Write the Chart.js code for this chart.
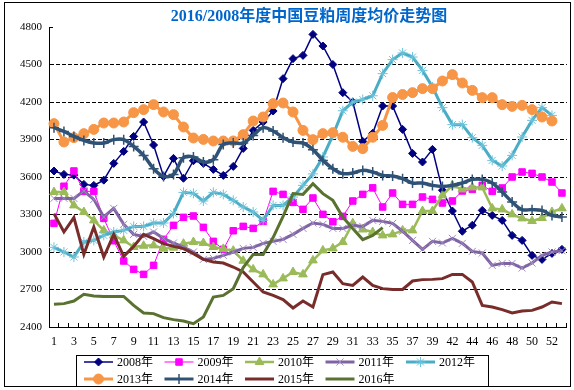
<!DOCTYPE html>
<html>
<head>
<meta charset="utf-8">
<title>2016/2008年度中国豆粕周度均价走势图</title>
<script src="https://cdn.jsdelivr.net/npm/chart.js"></script>
<style>
  body { margin: 0; background: #fff; }
  canvas { display: block; }
</style>
</head>
<body>
<canvas id="priceChart" width="574" height="390"></canvas>
<script>
// week numbers on the x axis (one week is skipped in the source, labels jump 39 -> 42)
const weeks = ['1','2','3','4','5','6','7','8','9','10','11','12','13','14','15','16','17','18','19','20',
  '21','22','23','24','25','26','27','28','29','30','31','32','33','34','35','36','37','38','39','40',
  '42','43','44','45','46','47','48','49','50','51','52','53'];

// weekly average price, yuan/ton
const y2008 = [3648,3621,3615,3541,3533,3575,3709,3805,3925,4040,3856,3605,3749,3590,3730,3709,3661,3613,3685,3829,
  3973,4040,4128,4387,4547,4573,4741,4648,4500,4275,4200,3885,3950,4168,4168,3981,3789,3720,3821,3494,
  3328,3166,3214,3333,3293,3253,3133,3093,2973,2941,2989,3021];
const y2009 = [3229,3526,3648,3485,3485,3269,3090,2928,2861,2821,2893,3101,3213,3277,3288,3197,3085,3021,3170,3205,
  3189,3245,3485,3461,3397,3341,3432,3301,3242,3285,3408,3461,3513,3360,3472,3381,3381,3440,3421,3392,
  3408,3488,3501,3533,3485,3512,3600,3640,3629,3600,3560,3472];
const y2010 = [3480,3480,3373,3320,3253,3173,3133,3093,3040,3050,3053,3027,3035,3067,3080,3072,3040,3025,3011,2930,
  2861,2821,2741,2789,2840,2821,2933,3013,3029,3080,3230,3180,3160,3133,3141,3173,3173,3328,3328,3453,
  3533,3501,3517,3517,3349,3341,3301,3269,3248,3272,3320,3349];
const y2011 = [3429,3429,3429,3488,3421,3280,3349,3221,3141,3125,3160,3109,3072,3040,3000,2941,2949,2973,3000,3029,
  3037,3069,3085,3101,3141,3189,3232,3221,3189,3189,3213,3205,3253,3245,3229,3166,3093,3021,3085,3072,
  3109,3069,3005,2992,2893,2909,2909,2872,2912,2973,3000,3010];
const y2012 = [3037,3000,2960,3080,3093,3133,3160,3173,3205,3205,3232,3232,3309,3477,3469,3408,3477,3461,3413,3360,
  3320,3253,3373,3373,3440,3533,3625,3760,3933,4130,4200,4220,4250,4427,4539,4592,4560,4453,4320,4155,
  4019,4019,3915,3853,3733,3688,3773,3920,4053,4155,4093,null];
const y2013 = [4027,3880,3915,3947,3981,4032,4032,4040,4115,4139,4179,4120,4099,4000,3912,3901,3888,3888,3888,3939,
  4048,4080,4187,4192,4120,3973,3899,3947,3955,3918,3845,3827,3918,4013,4236,4260,4275,4307,4307,4368,
  4419,4352,4293,4235,4235,4179,4165,4173,4139,4080,4048,null];
const y2014 = [3995,3965,3925,3893,3872,3872,3899,3899,3845,3773,3667,3605,3621,3755,3760,3720,3739,3861,3872,3872,
  3933,3995,3968,3915,3880,3872,3819,3733,3667,3627,3632,3653,3640,3613,3608,3587,3552,3552,3533,3525,
  3533,3552,3581,3581,3552,3480,3400,3339,3339,3333,3293,3280];
const y2015 = [3307,3160,3275,2981,3200,2960,3141,2965,3045,3141,3107,3067,3045,3027,2987,2941,2920,2912,2880,2840,
  2760,2680,2653,2619,2552,2608,2560,2819,2840,2747,2733,2800,2733,2707,2700,2700,2768,2779,2781,2787,
  2821,2821,2760,2573,2560,2539,2512,2528,2533,2560,2600,2587];
const y2016 = [2582,2587,2608,2661,2648,2645,2645,2645,2573,2512,2507,2475,2459,2448,2427,2480,2640,2653,2707,2875,
  2981,2981,3115,3285,3467,3461,3547,3467,3413,3280,3187,3099,3133,3195];

const seriesNames = ['2008年','2009年','2010年','2011年','2012年','2013年','2014年','2015年','2016年'];

const FONT = '"Liberation Serif", "Noto Sans CJK SC", serif';

function line(label, data, color, width, style, radius, extra) {
    return Object.assign({
        label: label,
        data: data,
        borderColor: color,
        backgroundColor: color,
        borderWidth: width,
        pointStyle: style,
        pointRadius: radius,
        pointHoverRadius: radius,
        pointBorderWidth: 1,
        tension: 0,
        fill: false
    }, extra || {});
}

const datasets = [
    line(seriesNames[0], y2008, '#000080', 1.5, 'rectRot', 4),
    line(seriesNames[1], y2009, '#FF00FF', 1, 'rect', 4.6),
    line(seriesNames[2], y2010, '#9BBB59', 2.5, 'triangle', 5),
    line(seriesNames[3], y2011, '#8064A2', 3, 'crossRot', 5, {pointBorderColor: '#9E8BC4'}),
    line(seriesNames[4], y2012, '#4BACC6', 3, 'star', 5, {pointBorderColor: '#6EC3DA'}),
    line(seriesNames[5], y2013, '#F79646', 3, 'circle', 5),
    line(seriesNames[6], y2014, '#2F5275', 3.5, 'cross', 5, {tension: 0.35, pointBorderWidth: 1.5}),
    line(seriesNames[7], y2015, '#782D2B', 3, 'circle', 0),
    line(seriesNames[8], y2016, '#5A7230', 3, 'circle', 0)
];
// later years are painted on top, like the original
datasets.forEach(function(d, i) { d.order = datasets.length - i; });

// title, outer frame and the boxed legend are painted by hand
const decorations = {
    id: 'decorations',
    afterDraw: function(chart) {
        const ctx = chart.ctx;
        ctx.save();
        ctx.strokeStyle = '#000';
        ctx.lineWidth = 1;
        ctx.strokeRect(4.5, 2.5, 566, 384);

        ctx.fillStyle = '#0066CC';
        ctx.font = 'bold 16px ' + FONT;
        ctx.textAlign = 'center';
        ctx.textBaseline = 'middle';
        ctx.fillText('2016/2008年度中国豆粕周度均价走势图', 309, 17);

        ctx.strokeRect(76.5, 355.5, 412, 31);
        ctx.font = '12px ' + FONT;
        ctx.textAlign = 'left';
        chart.data.datasets.forEach(function(ds, i) {
            const x0 = 84 + (i % 5) * 80.5;
            const x1 = x0 + 29;
            const y = i < 5 ? 362 : 379;
            ctx.strokeStyle = ds.borderColor;
            ctx.lineWidth = Math.min(ds.borderWidth, 3);
            ctx.beginPath();
            ctx.moveTo(x0, y);
            ctx.lineTo(x1, y);
            ctx.stroke();
            if (ds.pointRadius > 0 && Chart.helpers && Chart.helpers.drawPoint) {
                ctx.fillStyle = ds.backgroundColor;
                ctx.strokeStyle = ds.pointBorderColor || ds.borderColor;
                ctx.lineWidth = ds.pointBorderWidth;
                Chart.helpers.drawPoint(ctx, {pointStyle: ds.pointStyle, rotation: 0,
                    radius: ds.pointRadius, borderWidth: ds.pointBorderWidth}, (x0 + x1) / 2, y);
            }
            ctx.fillStyle = '#000';
            ctx.fillText(ds.label, x1 + 4, y + 1);
        });
        ctx.restore();
    }
};

new Chart(document.getElementById('priceChart'), {
    type: 'line',
    data: { labels: weeks, datasets: datasets },
    options: {
        responsive: false,
        animation: false,
        layout: { padding: { top: 27, right: 5, left: 0, bottom: 0 } },
        plugins: {
            legend: { display: false },
            title: { display: false },
            tooltip: { enabled: false }
        },
        scales: {
            x: {
                offset: true,
                afterFit: function(scale) { scale.height = 63; },
                grid: { offset: true, drawOnChartArea: false, tickLength: -4, color: '#000' },
                border: { color: '#000' },
                ticks: {
                    autoSkip: false,
                    maxRotation: 0,
                    padding: 12,
                    color: '#000',
                    font: { family: FONT, size: 12 },
                    callback: function(value, index) { return index % 2 === 0 ? weeks[index] : ''; }
                }
            },
            y: {
                min: 2400,
                max: 4800,
                afterFit: function(scale) { scale.width = 49; },
                grid: {
                    tickLength: -4,
                    tickColor: '#000',
                    color: function(c) { return c.tick && c.tick.value === 4800 ? 'rgba(0,0,0,0)' : '#000'; }
                },
                border: { color: '#000', dash: [4, 2] },
                ticks: {
                    stepSize: 300,
                    padding: 11,
                    color: '#000',
                    font: { family: FONT, size: 11 },
                    callback: function(value) { return String(value); }
                }
            }
        }
    },
    plugins: [decorations]
});
</script>
</body>
</html>
